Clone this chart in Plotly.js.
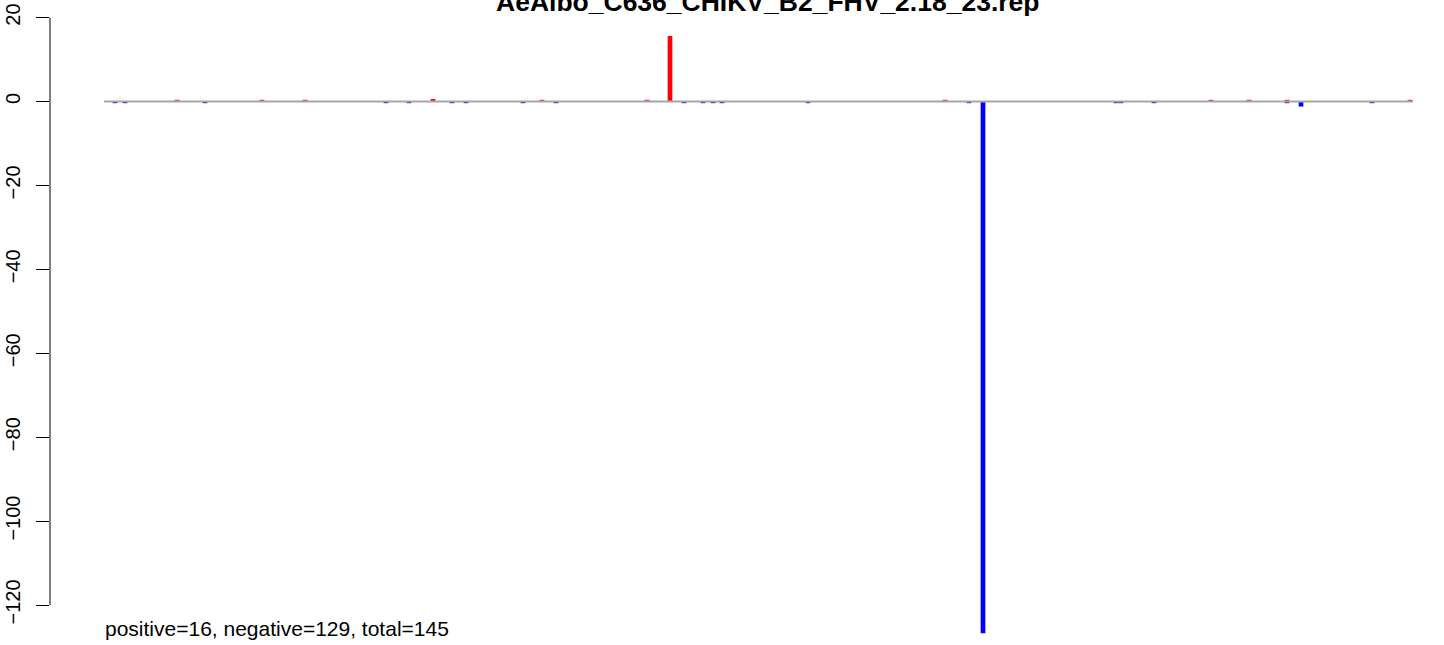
<!DOCTYPE html>
<html>
<head>
<meta charset="utf-8">
<script src="https://cdn.plot.ly/plotly-3.0.1.min.js"></script>
<style>html,body{margin:0;padding:0;background:#fff;}#chart{width:1444px;height:645px;}</style>
</head>
<body>
<div id="chart"></div>
<script>
// ---- data ----
const chartTitle = "AeAlbo_C636_CHIKV_B2_FHV_2.18_23.rep";
const summaryText = "positive=16, negative=129, total=145";
const positivePositions = [127, 212, 255, 383, 492, 597, 620, 895, 1161, 1199, 1237, 1360];
const positiveValues    = [0.4, 0.4, 0.4, 0.6, 0.4, 0.4, 15.6, 0.4, 0.4, 0.4, 0.4, 0.4];
const negativePositions = [65, 75, 155, 336, 359, 402, 416, 473, 506, 634, 653, 663, 672, 758, 919, 933, 1066, 1071, 1104, 1237, 1251, 1322];
const negativeValues    = [-0.4, -0.4, -0.4, -0.4, -0.4, -0.4, -0.4, -0.4, -0.4, -0.4, -0.4, -0.4, -0.4, -0.4, -0.4, -126.7, -0.4, -0.4, -0.4, -0.4, -1.2, -0.4];
const regionStart = 54;
const regionEnd = 1363;
const yTickValues = [20, 0, -20, -40, -60, -80, -100, -120];

// ---- layout constants ----
const W = 1444, H = 645;
const plotLeft = 50;
const xRange = [0, W - plotLeft];
const yRange = [-129.53, 24.19];
const font = "Liberation Sans, Arial, Helvetica, sans-serif";
const barWidth = 4.7;

const traces = [
  {type: 'bar', x: positivePositions, y: positiveValues, width: barWidth,
   marker: {color: '#FF0000', line: {width: 0}}, hoverinfo: 'x+y', name: 'positive'},
  {type: 'bar', x: negativePositions, y: negativeValues, width: barWidth,
   marker: {color: '#0000FF', line: {width: 0}}, hoverinfo: 'x+y', name: 'negative'}
];

const layout = {
  width: W, height: H,
  margin: {l: plotLeft, r: 0, t: 0, b: 0, pad: 0},
  paper_bgcolor: '#fff', plot_bgcolor: '#fff',
  showlegend: false,
  barmode: 'overlay',
  font: {family: font, color: '#000'},
  xaxis: {range: xRange, visible: false, showgrid: false, zeroline: false, fixedrange: true},
  yaxis: {range: yRange, showgrid: false, zeroline: false, showline: false,
          tickmode: 'array', tickvals: yTickValues, ticktext: yTickValues.map(v => v < 0 ? '\u2212' + Math.abs(v) : String(v)),
          ticks: 'outside', ticklen: 13, tickwidth: 1, tickcolor: '#000',
          tickangle: -90, tickfont: {size: 20, family: font, color: '#000'},
          ticklabelstandoff: 8, fixedrange: true},
  shapes: [
    {type: 'line', xref: 'paper', yref: 'y', x0: 0, x1: 0,
     y0: yTickValues[0], y1: yTickValues[yTickValues.length - 1],
     line: {color: '#000', width: 1}, layer: 'above'},
    {type: 'line', xref: 'x', yref: 'y', x0: regionStart, x1: regionEnd, y0: 0, y1: 0,
     line: {color: '#A6A6A6', width: 2}, layer: 'above'}
  ],
  annotations: [
    {text: chartTitle, xref: 'paper', yref: 'paper', x: (768 - plotLeft) / (W - plotLeft), y: 1 - 19 / H,
     xanchor: 'center', yanchor: 'bottom', showarrow: false,
     font: {family: font, size: 26.5, weight: 'bold', color: '#000'}},
    {text: summaryText, xref: 'paper', yref: 'paper', x: (103 - plotLeft) / (W - plotLeft), y: 1 - 628 / H,
     xanchor: 'left', yanchor: 'middle', showarrow: false,
     font: {family: font, size: 21, color: '#000'}}
  ]
};

Plotly.newPlot('chart', traces, layout, {displayModeBar: false, staticPlot: true});
</script>
</body>
</html>
